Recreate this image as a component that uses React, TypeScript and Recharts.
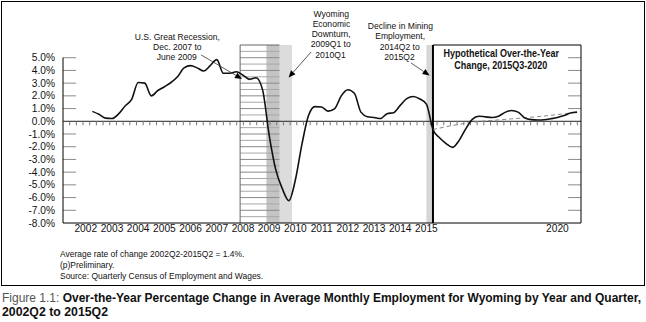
import React from "react";
import { LineChart, Line, XAxis, YAxis, ReferenceArea, ReferenceLine } from "recharts";

const FONT = "'Liberation Sans', Arial, sans-serif";

// over-the-year % change, quarterly from 2002Q2
const actualValues = [
  0.78, 0.55, 0.25,
  0.22, 0.58, 1.2, 1.72,
  3.05, 3.0, 2.0, 2.42,
  2.72, 3.05, 3.5, 4.2,
  4.38, 4.2, 3.95, 4.38,
  4.85, 3.78, 3.78, 3.9,
  3.62, 3.3, 3.42, 2.45,
  -1.1, -3.8, -5.3, -6.25,
  -4.6, -1.8, 0.45, 1.15,
  1.12, 0.8, 1.0, 2.0,
  2.48, 2.2, 0.72, 0.36,
  0.3, 0.22, 0.6, 0.68,
  1.25, 1.78, 1.95, 1.75,
  1.35, -0.65,
];
// hypothetical, 2015Q3 to 2020Q4
const hypotheticalValues = [
  -1.3, -1.75,
  -2.05, -1.5, -0.6, 0.15,
  0.4, 0.35, 0.3, 0.4,
  0.7, 0.85, 0.72, 0.27,
  0.13, 0.1, 0.12, 0.2,
  0.3, 0.45, 0.65, 0.72,
];
// dashed trend, 2015Q2 to 2020Q4
const trendStart = "2015Q2";
const trendValues = [
  -0.65, -0.54, -0.43,
  -0.33, -0.24, -0.15, -0.08,
  -0.02, 0.03, 0.07, 0.11,
  0.15, 0.19, 0.23, 0.27,
  0.32, 0.37, 0.42, 0.47,
  0.53, 0.59, 0.65, 0.72,
];
const yearTicks = [2002, 2003, 2004, 2005, 2006, 2007, 2008, 2009, 2010, 2011, 2012, 2013, 2014, 2015, 2020];
const percentTicks = [-8, -7, -6, -5, -4, -3, -2, -1, 0, 1, 2, 3, 4, 5];

const X_MIN = 2001.13;
const X_MAX = 2020.9;
const Y_MIN = -8;
const Y_MAX = 6;
const recession = [2007.89, 2009.39];
const downturn = [2008.9, 2009.87];
const mining = [2015.0, 2015.23];
const hypoStart = 2015.25;

const allValues = [...actualValues, ...hypotheticalValues];
const quarterLabels = allValues.map((_, i) => {
  const year = 2002 + Math.floor((i + 1) / 4);
  const q = ((i + 1) % 4) + 1;
  return `${year}Q${q}`;
});
const toYear = (label: string) => Number(label.slice(0, 4)) + (Number(label.slice(5)) - 1) / 4;
const trendIndex = quarterLabels.indexOf(trendStart);

const data = quarterLabels.map((label, i) => ({
  quarter: label,
  t: toYear(label),
  change: allValues[i],
  trend: i >= trendIndex ? trendValues[i - trendIndex] : null,
}));

const ZeroLine = (props: any) => {
  const { x1, y1, x2 } = props;
  const step = 6.68;
  const ticks = [];
  for (let x = x1 + step; x < x2 - 2; x += step) {
    ticks.push(<line key={x} x1={x} x2={x} y1={y1} y2={y1 + 4} stroke="#777" strokeWidth={1} />);
  }
  return (
    <g>
      <line x1={x1} y1={y1} x2={x2} y2={y1} stroke="#222" strokeWidth={1} />
      {ticks}
    </g>
  );
};

const Hatch = (props: any) => {
  const { x, y, width, height } = props;
  const rows = (Y_MAX - Y_MIN) * 2;
  const lines = [];
  for (let i = 1; i < rows; i++) {
    const yy = y + (i * height) / rows;
    lines.push(
      <line key={i} x1={x} x2={x + width} y1={yy} y2={yy} stroke={i % 2 === 0 ? "#8a8a8a" : "#a8a8a8"} strokeWidth={1} />
    );
  }
  return (
    <g>
      {lines}
      <line x1={x} x2={x} y1={y} y2={y + height} stroke="#666" />
      <line x1={x} x2={x + width} y1={y} y2={y} stroke="#666" />
    </g>
  );
};

const Arrow = (props: any) => {
  const { x1, y1, x2, y2 } = props;
  const ang = Math.atan2(y2 - y1, x2 - x1);
  const len = 7;
  const half = 3;
  const bx = x2 - len * Math.cos(ang);
  const by = y2 - len * Math.sin(ang);
  const px = -Math.sin(ang) * half;
  const py = Math.cos(ang) * half;
  return (
    <g>
      <line x1={x1} y1={y1} x2={bx} y2={by} stroke="#333" strokeWidth={0.8} />
      <polygon points={`${x2},${y2} ${bx + px},${by + py} ${bx - px},${by - py}`} fill="#000" />
    </g>
  );
};

function Note({ cx, top, lines, lh = 10.4, size = 9.3, bold = false, squeeze = 0.92 }: any) {
  return (
    <div
      style={{
        position: "absolute",
        left: cx - 100,
        top,
        width: 200,
        textAlign: "center",
        fontFamily: FONT,
        fontSize: size,
        lineHeight: `${lh}px`,
        fontWeight: bold ? 700 : 400,
        color: "#111",
        whiteSpace: "nowrap",
      }}
    >
      {lines.map((l: string) => (
        <div key={l} style={{ height: lh }}>
          <span style={{ display: "inline-block", transform: `scaleX(${squeeze})`, transformOrigin: "50% 50%" }}>{l}</span>
        </div>
      ))}
    </div>
  );
}

export default function App() {
  const tickStyle = { fontSize: 10.2, fill: "#111", fontFamily: FONT };
  const footLines = [
    "Average rate of change 2002Q2-2015Q2 = 1.4%.",
    "(p)Preliminary.",
    "Source: Quarterly Census of Employment and Wages.",
  ];
  return (
    <div style={{ position: "absolute", left: 0, top: 0, width: 646, height: 322, background: "#fff" }}>
      <div
        style={{
          position: "absolute",
          left: 1,
          top: 1,
          width: 644,
          height: 285,
          border: "1px solid #000",
          boxSizing: "border-box",
        }}
      />
      <div style={{ position: "absolute", left: 0, top: 0 }}>
        <LineChart width={646} height={240} data={data} margin={{ top: 45, right: 15, bottom: 0, left: 13 }}>
          <XAxis
            dataKey="t"
            type="number"
            domain={[X_MIN, X_MAX]}
            ticks={yearTicks}
            interval={0}
            tickLine={false}
            tickSize={0}
            tickMargin={2}
            height={17}
            axisLine={{ stroke: "#000" }}
            tick={tickStyle}
          />
          <YAxis
            yAxisId="left"
            domain={[Y_MIN, Y_MAX]}
            ticks={percentTicks}
            interval={0}
            tickFormatter={(v: number) => `${v.toFixed(1)}%`}
            axisLine={false}
            tickLine={false}
            width={50}
            tick={tickStyle}
          />
          <YAxis
            yAxisId="right"
            orientation="right"
            domain={[Y_MIN, Y_MAX]}
            ticks={percentTicks}
            interval={0}
            tickFormatter={(v: number) => `${v.toFixed(1)}%`}
            axisLine={{ stroke: "#000" }}
            tickLine={false}
            tickSize={3}
            width={50}
            tick={{ ...tickStyle, textAnchor: "start" }}
          />
          <ReferenceArea yAxisId="left" x1={downturn[0]} x2={downturn[1]} y1={Y_MIN} y2={Y_MAX} fill="#dcdcdc" fillOpacity={1} stroke="none" />
          <ReferenceArea yAxisId="left" x1={downturn[0]} x2={recession[1]} y1={Y_MIN} y2={Y_MAX} fill="#c4c4c4" fillOpacity={1} stroke="none" />
          <ReferenceArea yAxisId="left" x1={mining[0]} x2={mining[1]} y1={Y_MIN} y2={Y_MAX} fill="#d6d6d6" fillOpacity={1} stroke="none" />
          <ReferenceArea yAxisId="left" x1={recession[0]} x2={recession[1]} y1={Y_MIN} y2={Y_MAX} shape={Hatch} />
          {percentTicks
            .filter((v) => v !== 0 && v !== Y_MIN)
            .map((v) => (
              <ReferenceLine
                key={`l${v}`}
                yAxisId="left"
                segment={[{ x: X_MIN, y: v }, { x: X_MIN + 0.5, y: v }]}
                stroke="#8c8c8c"
                strokeWidth={1}
              />
            ))}
          {percentTicks
            .filter((v) => v !== 0 && v !== Y_MIN)
            .map((v) => (
              <ReferenceLine
                key={`r${v}`}
                yAxisId="left"
                segment={[{ x: X_MAX - 0.5, y: v }, { x: X_MAX, y: v }]}
                stroke="#8c8c8c"
                strokeWidth={1}
              />
            ))}
          <ReferenceLine yAxisId="left" segment={[{ x: X_MIN, y: Y_MIN }, { x: X_MIN, y: 5 }]} stroke="#000" strokeWidth={1} />
          <ReferenceLine yAxisId="left" y={0} shape={ZeroLine} />
          <ReferenceLine yAxisId="left" x={hypoStart} stroke="#000" strokeWidth={2} />
          <ReferenceLine yAxisId="left" segment={[{ x: hypoStart, y: Y_MAX }, { x: X_MAX, y: Y_MAX }]} stroke="#000" strokeWidth={1} />
          <Line
            yAxisId="left"
            dataKey="trend"
            type="monotone"
            stroke="#888"
            strokeWidth={1}
            strokeDasharray="4 3"
            dot={false}
            isAnimationActive={false}
            connectNulls={false}
          />
          <Line
            yAxisId="left"
            dataKey="change"
            type="monotone"
            stroke="#111"
            strokeWidth={1.6}
            dot={false}
            isAnimationActive={false}
          />
          <ReferenceLine yAxisId="left" segment={[{ x: 2006.4, y: 5.22 }, { x: 2007.96, y: 3.33 }]} shape={Arrow} />
          <ReferenceLine yAxisId="left" segment={[{ x: 2010.6, y: 5.45 }, { x: 2009.74, y: 3.45 }]} shape={Arrow} />
          <ReferenceLine yAxisId="left" segment={[{ x: 2014.41, y: 4.59 }, { x: 2015.12, y: 3.6 }]} shape={Arrow} />
        </LineChart>
      </div>
      <Note cx={177} top={31.5} lines={["U.S. Great Recession,", "Dec. 2007 to", "June 2009"]} />
      <Note cx={331} top={8.5} lh={10.3} lines={["Wyoming", "Economic", "Downturn,", "2009Q1 to", "2010Q1"]} />
      <Note cx={400} top={21} lh={10.3} lines={["Decline in Mining", "Employment,", "2014Q2 to", "2015Q2"]} />
      <Note cx={501} top={48} lh={12.4} size={10} bold squeeze={0.9} lines={["Hypothetical Over-the-Year", "Change, 2015Q3-2020"]} />
      <div
        style={{
          position: "absolute",
          left: 60,
          top: 247.5,
          fontFamily: FONT,
          fontSize: 9.5,
          lineHeight: "11.2px",
          color: "#111",
          whiteSpace: "nowrap",
        }}
      >
        {footLines.map((l) => (
          <div key={l} style={{ height: 11.2 }}>
            <span style={{ display: "inline-block", transform: "scaleX(0.89)", transformOrigin: "0 50%" }}>{l}</span>
          </div>
        ))}
      </div>
      <svg
        width={646}
        height={34}
        style={{ position: "absolute", left: 0, top: 288 }}
        fontFamily={FONT}
        fontSize={11.9}
        fontWeight={700}
      >
        <text x={2} y={14} textLength={639} lengthAdjust="spacingAndGlyphs" fill="#111">
          <tspan fontWeight={400} fill="#555">
            Figure 1.1:{" "}
          </tspan>
          <tspan>Over-the-Year Percentage Change in Average Monthly Employment for Wyoming by Year and Quarter,</tspan>
        </text>
        <text x={2} y={28} textLength={106} lengthAdjust="spacingAndGlyphs" fill="#111">
          2002Q2 to 2015Q2
        </text>
      </svg>
    </div>
  );
}
